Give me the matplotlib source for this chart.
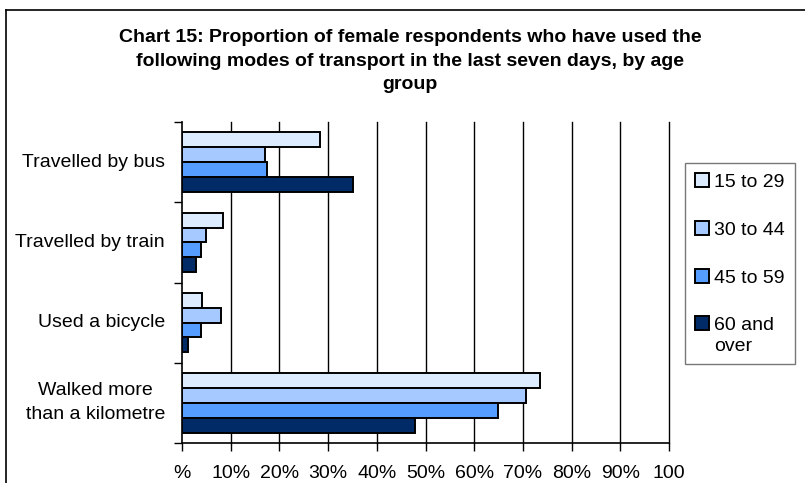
import matplotlib
matplotlib.use("Agg")
import matplotlib.pyplot as plt
from matplotlib.lines import Line2D
from matplotlib.patches import Rectangle
from matplotlib.legend_handler import HandlerPatch
import numpy as np

plt.rcParams['font.family'] = ['Liberation Sans', 'DejaVu Sans']

categories = ["Travelled by bus", "Travelled by train", "Used a bicycle",
              "Walked more\nthan a kilometre"]
series_names = ["15 to 29", "30 to 44", "45 to 59", "60 and\nover"]
values = {
    "15 to 29": [28.3, 8.4, 4.2, 73.5],
    "30 to 44": [17.0, 4.9, 8.0, 70.6],
    "45 to 59": [17.5, 4.0, 4.0, 64.8],
    "60 and\nover": [35.1, 2.9, 1.3, 47.8],
}
colors = ["#DDEBFF", "#A6CAFF", "#559EFF", "#002B66"]
xtick_labels = ["%", "10%", "20%", "30%", "40%", "50%", "60%", "70%", "80%", "90%", "100"]
title = ("Chart 15: Proportion of female respondents who have used the\n"
         "following modes of transport in the last seven days, by age\n"
         "group")

W, H = 805, 483
fig = plt.figure(figsize=(W / 100, H / 100), dpi=100)

# outer chart border (left and top visible)
fig.add_artist(Line2D([6 / W, 6 / W], [0, 1 - 10 / H], color="black", lw=1.2,
                      transform=fig.transFigure))
fig.add_artist(Line2D([6 / W, 1], [1 - 10 / H, 1 - 10 / H], color="black", lw=1.2,
                      transform=fig.transFigure))

x0, x1 = 182, 669
ytop, ybot = 122, 443
ax = fig.add_axes([x0 / W, 1 - ybot / H, (x1 - x0) / W, (ybot - ytop) / H])

n = len(categories)
group = 0.74
bh = group / len(series_names)
centers = np.arange(n) + 0.5
handles = []
for i, (name, c) in enumerate(zip(series_names, colors)):
    pos = centers - group / 2 + bh * (i + 0.5)
    b = ax.barh(pos, values[name], height=bh, color=c, edgecolor="black",
                linewidth=1.4, label=name, zorder=3)
    handles.append(b)

ax.set_ylim(n, 0)
ax.set_xlim(0, 100)
ax.set_yticks(np.arange(n + 1))
ax.set_yticklabels([])
ax.tick_params(axis="y", length=6, width=1, direction="out")
ax.set_xticks(np.arange(0, 101, 10))
ax.set_xticklabels(xtick_labels, fontsize=14)
ax.tick_params(axis="x", length=6, width=1, direction="out", pad=10)

for cat, cy in zip(categories, centers):
    ax.text(-17 / (x1 - x0), cy, cat, transform=ax.get_yaxis_transform(),
            ha="right", va="center", multialignment="center", fontsize=14,
            linespacing=1.55)

for xv in range(10, 101, 10):
    ax.axvline(xv, color="black", lw=1.0, zorder=1, clip_on=False)

for s in ["top", "right"]:
    ax.spines[s].set_visible(False)
ax.spines["left"].set_linewidth(1.2)
ax.spines["bottom"].set_linewidth(1.2)
ax.spines["left"].set_zorder(4)

fig.text(410 / W, 1 - 29 / H, title, ha="center", va="top", fontsize=14,
         fontweight="bold", linespacing=1.5)


class OffsetHandler(HandlerPatch):
    def __init__(self, dy=0.0, **kw):
        super().__init__(**kw)
        self.dy = dy

    def create_artists(self, legend, orig_handle, xdescent, ydescent,
                       width, height, fontsize, trans):
        p = Rectangle((-xdescent, -ydescent + self.dy), width, height)
        self.update_prop(p, orig_handle, legend)
        p.set_transform(trans)
        return [p]


handler_map = {handles[i].patches[0]: OffsetHandler(dy=0) for i in range(3)}
handler_map[handles[3].patches[0]] = OffsetHandler(dy=9.0)

leg = fig.legend([h.patches[0] for h in handles], series_names,
                 loc="upper left", bbox_to_anchor=(685 / W, 1 - 163 / H),
                 fontsize=14, frameon=True, fancybox=False, edgecolor="#555555",
                 handlelength=0.75, handleheight=0.75, handletextpad=0.25,
                 labelspacing=1.55, borderpad=0.5, borderaxespad=0,
                 handler_map=handler_map)
leg.get_frame().set_linewidth(1.0)
for t in leg.get_texts():
    t.set_linespacing(1.3)

fig.savefig("out.png", dpi=100)
